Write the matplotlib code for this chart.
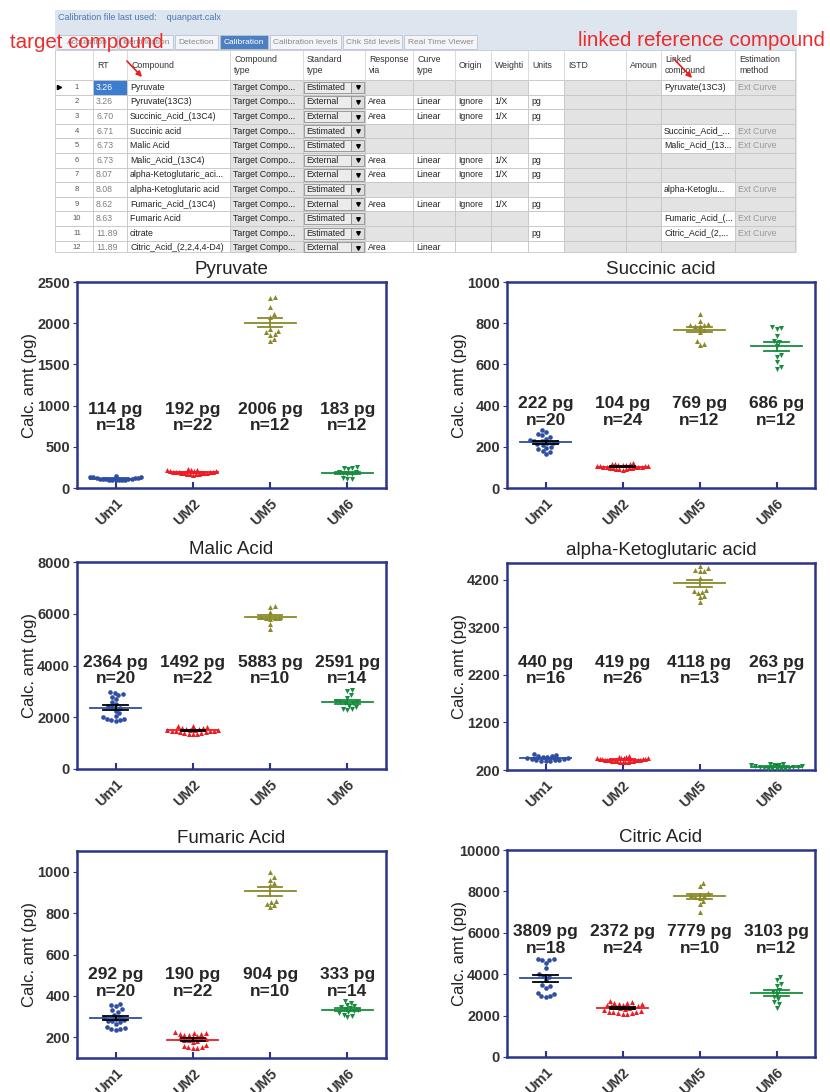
import numpy as np
import matplotlib.pyplot as plt
from matplotlib.patches import Rectangle, FancyArrowPatch

plt.rcParams['font.family'] = ['Liberation Sans', 'DejaVu Sans']

groups = ['Um1', 'UM2', 'UM5', 'UM6']

# ---- data (pg) ----
pyruvate_um1 = [150, 135, 130, 128, 125, 122, 118, 115, 112, 110, 108, 105, 102, 100, 98, 95, 100, 95]
pyruvate_um2 = [228, 222, 218, 215, 212, 208, 205, 200, 198, 195, 192, 190, 188, 185, 182, 180, 176, 172, 168, 165, 160, 165]
pyruvate_um5 = [2320, 2310, 2200, 2110, 2080, 1930, 1910, 1890, 1870, 1860, 1810, 1780]
pyruvate_um6 = [240, 250, 245, 225, 200, 190, 180, 175, 170, 120, 115, 110]
pyruvate_lab = [114, 192, 2006, 183]

succinic_um1 = [280, 270, 262, 255, 248, 240, 235, 230, 228, 225, 220, 218, 212, 208, 200, 195, 190, 182, 175, 165]
succinic_um2 = [120, 118, 116, 115, 113, 112, 110, 108, 107, 106, 105, 104, 103, 102, 101, 100, 99, 98, 96, 95, 93, 92, 90, 88]
succinic_um5 = [845, 812, 795, 790, 785, 790, 785, 765, 755, 715, 700, 695]
succinic_um6 = [782, 778, 772, 740, 715, 710, 690, 645, 638, 612, 585, 578]
succinic_lab = [222, 104, 769, 686]

malic_um1 = [2980, 2950, 2900, 2850, 2780, 2700, 2600, 2500, 2420, 2380, 2340, 2250, 2150, 2050, 2000, 1950, 1920, 1900, 1880, 1850]
malic_um2 = [1680, 1650, 1620, 1600, 1580, 1560, 1540, 1520, 1510, 1500, 1490, 1480, 1470, 1460, 1450, 1440, 1420, 1400, 1380, 1360, 1350, 1340]
malic_um5 = [6300, 6270, 6050, 5880, 5830, 5830, 5850, 5780, 5600, 5400]
malic_um6 = [3050, 3000, 2850, 2750, 2620, 2580, 2540, 2580, 2550, 2450, 2400, 2330, 2300, 2280]
malic_lab = [2364, 1492, 5883, 2591]

akg_um1 = [530, 510, 500, 490, 480, 470, 460, 450, 440, 430, 420, 410, 400, 390, 380, 380]
akg_um2 = [490, 480, 470, 460, 455, 450, 445, 440, 435, 430, 425, 420, 418, 415, 410, 405, 400, 398, 395, 390, 385, 380, 378, 375, 372, 370]
akg_um5 = [4480, 4440, 4400, 4390, 4380, 4240, 3990, 3970, 3950, 3920, 3850, 3830, 3720]
akg_um6 = [330, 320, 310, 300, 295, 290, 280, 270, 265, 260, 250, 240, 230, 225, 220, 215, 215]
akg_lab = [440, 419, 4118, 263]

fumaric_um1 = [360, 355, 350, 335, 330, 320, 310, 300, 295, 290, 285, 280, 275, 280, 265, 250, 245, 240, 238, 236]
fumaric_um2 = [225, 222, 220, 218, 215, 212, 210, 205, 200, 195, 192, 190, 188, 185, 180, 175, 165, 160, 155, 152, 150, 148]
fumaric_um5 = [1000, 975, 960, 945, 935, 860, 855, 845, 840, 830]
fumaric_um6 = [375, 365, 355, 350, 345, 340, 335, 330, 325, 320, 315, 310, 305, 298]
fumaric_lab = [292, 190, 904, 333]

citric_um1 = [4750, 4720, 4700, 4680, 4550, 4300, 4000, 3900, 3850, 3700, 3500, 3450, 3350, 3100, 3050, 2950, 2930, 2900]
citric_um2 = [2700, 2650, 2620, 2600, 2580, 2550, 2520, 2500, 2480, 2450, 2420, 2400, 2380, 2350, 2300, 2250, 2200, 2180, 2150, 2120, 2100, 2160, 2130, 2100]
citric_um5 = [8400, 8250, 7900, 7850, 7800, 7750, 7700, 7550, 7400, 7000]
citric_um6 = [3850, 3700, 3550, 3450, 3250, 3150, 3050, 2900, 2800, 2650, 2550, 2350]
citric_lab = [3809, 2372, 7779, 3103]

# ---- calibration table (screenshot) ----
tab_rt = ['3.26', '3.26', '6.70', '6.71', '6.73', '6.73', '8.07', '8.08', '8.62', '8.63', '11.89', '11.89']
tab_compound = ['Pyruvate', 'Pyruvate(13C3)', 'Succinic_Acid_(13C4)', 'Succinic acid', 'Malic Acid',
                'Malic_Acid_(13C4)', 'alpha-Ketoglutaric_aci...', 'alpha-Ketoglutaric acid',
                'Fumaric_Acid_(13C4)', 'Fumaric Acid', 'citrate', 'Citric_Acid_(2,2,4,4-D4)']
tab_std = ['Estimated', 'External', 'External', 'Estimated', 'Estimated', 'External', 'External',
           'Estimated', 'External', 'Estimated', 'Estimated', 'External']
tab_units = ['', 'pg', 'pg', '', '', 'pg', 'pg', '', 'pg', '', 'pg', '']
tab_linked = ['Pyruvate(13C3)', '', '', 'Succinic_Acid_...', 'Malic_Acid_(13...', '', '',
              'alpha-Ketoglu...', '', 'Fumaric_Acid_(...', 'Citric_Acid_(2,...', '']
tab_headers = ['', 'RT', 'Compound', 'Compound\ntype', 'Standard\ntype', 'Response\nvia', 'Curve\ntype',
               'Origin', 'Weighti', 'Units', 'ISTD', 'Amoun', 'Linked\ncompound', 'Estimation\nmethod']
tab_names = ['Acquisition', 'Identification', 'Detection', 'Calibration', 'Calibration levels',
             'Chk Std levels', 'Real Time Viewer']

fig = plt.figure(figsize=(8.3, 10.92), dpi=100)

# overlay in pixel coords for the screenshot part
ov = fig.add_axes([0, 0, 1, 1])
ov.set_xlim(0, 830)
ov.set_ylim(1092, 0)
ov.axis('off')

ov.add_patch(Rectangle((55, 10), 742, 242, fc='#dde5ef', ec='none'))
ov.text(58, 18, 'Calibration file last used:    quanpart.calx', fontsize=6.5, color='#4a78b5', va='center')

tab_x = [57, 118, 174, 219, 269, 342, 403, 478]
for i, name in enumerate(tab_names):
    active = name == 'Calibration'
    ov.add_patch(Rectangle((tab_x[i] + 1, 35), tab_x[i + 1] - tab_x[i] - 2, 14,
                           fc='#4c80c2' if active else '#f3f5f8', ec='#b9c3d0', lw=0.6))
    ov.text((tab_x[i] + tab_x[i + 1]) / 2, 42.5, name, fontsize=6, ha='center', va='center',
            color='white' if active else '#8a8a8a')

cols = [55, 93, 127, 230, 303, 365, 413, 455, 491, 528, 564, 626, 661, 735, 795]
ov.add_patch(Rectangle((55, 50), 740, 30, fc='white', ec='#c9c9c9', lw=0.6))
for c in range(1, len(cols) - 1):
    ov.plot([cols[c], cols[c]], [50, 80], color='#d5d5d5', lw=0.6)
    ov.text(cols[c] + 4, 65, tab_headers[c], fontsize=6.3, va='center', color='#333333', linespacing=1.3)

row_h = 14.6
for r in range(len(tab_rt)):
    y0 = 80 + r * row_h
    h = min(row_h, 252 - y0)
    est = tab_std[r] == 'Estimated'
    fills = ['#ffffff', '#ffffff', '#ffffff', '#e3e3e3', '#e3e3e3']
    if est:
        fills += ['#e3e3e3'] * 4 + ['#ffffff', '#e3e3e3', '#e3e3e3', '#ffffff', '#e3e3e3']
    else:
        fills += ['#ffffff'] * 5 + ['#e3e3e3'] * 4
    for c in range(len(cols) - 1):
        fc = fills[c]
        if r == 0 and c == 1:
            fc = '#3d7dd0'
        ov.add_patch(Rectangle((cols[c], y0), cols[c + 1] - cols[c], h, fc=fc, ec='#c6c6c6', lw=0.6))
    yc = y0 + row_h / 2
    ov.text(77, yc, str(r + 1), fontsize=5.5, ha='center', va='center', color='#555555')
    if r == 0:
        ov.plot(59, yc, marker='>', ms=3, color='black')
    ov.text(cols[1] + 3, yc, tab_rt[r], fontsize=6.3, va='center', color='white' if r == 0 else '#808080')
    ov.text(cols[2] + 3, yc, tab_compound[r], fontsize=6.3, va='center', color='#222222')
    ov.text(cols[3] + 3, yc, 'Target Compo...', fontsize=6.3, va='center', color='#222222')
    ov.add_patch(Rectangle((304, y0 + 1.5), 47, min(row_h - 3, h - 1.5), fc='#ececec', ec='#8f8f8f', lw=0.6))
    ov.add_patch(Rectangle((351, y0 + 1.5), 13, min(row_h - 3, h - 1.5), fc='#dedede', ec='#8f8f8f', lw=0.6))
    ov.plot(357.5, yc, marker='v', ms=2.6, color='black')
    ov.text(306, yc, tab_std[r], fontsize=6.3, va='center', color='#222222')
    if not est:
        ov.text(cols[5] + 3, yc, 'Area', fontsize=6.3, va='center', color='#222222')
        ov.text(cols[6] + 3, yc, 'Linear', fontsize=6.3, va='center', color='#222222')
        if r < 11:
            ov.text(cols[7] + 3, yc, 'Ignore', fontsize=6.3, va='center', color='#222222')
            ov.text(cols[8] + 3, yc, '1/X', fontsize=6.3, va='center', color='#222222')
    if r < 11:
        ov.text(cols[9] + 3, yc, tab_units[r], fontsize=6.3, va='center', color='#222222')
    if est:
        ov.text(cols[12] + 3, yc, tab_linked[r], fontsize=6.3, va='center', color='#222222')
        ov.text(cols[13] + 3, yc, 'Ext Curve', fontsize=6.3, va='center', color='#9a9a9a')

ov.text(10, 42, 'target compound', fontsize=14.8, color='#ee2a2a', va='center', zorder=5)
ov.text(578, 41, 'linked reference compound', fontsize=14.8, color='#ee2a2a', va='center', zorder=5)
for a, b in [((125, 59), (144, 79)), ((672, 57), (694, 80))]:
    ov.add_patch(FancyArrowPatch(a, b, arrowstyle='-|>', mutation_scale=8, color='#e8201f', lw=1.2, zorder=5))

# ---- scatter panels ----
colors = ['#2d4ea3', '#ee1c25', '#8a8a2c', '#188c3e']
markers = ['o', '^', '^', 'v']
navy = '#2b3488'

panels = [
    ('Pyruvate', [pyruvate_um1, pyruvate_um2, pyruvate_um5, pyruvate_um6], pyruvate_lab,
     (0, 2500), np.arange(0, 2501, 500), 855, False),
    ('Succinic acid', [succinic_um1, succinic_um2, succinic_um5, succinic_um6], succinic_lab,
     (0, 1000), np.arange(0, 1001, 200), 369, True),
    ('Malic Acid', [malic_um1, malic_um2, malic_um5, malic_um6], malic_lab,
     (0, 8000), np.arange(0, 8001, 2000), 3806, True),
    ('alpha-Ketoglutaric acid', [akg_um1, akg_um2, akg_um5, akg_um6], akg_lab,
     (200, 4550), np.arange(200, 4201, 1000), 2293, False),
    ('Fumaric Acid', [fumaric_um1, fumaric_um2, fumaric_um5, fumaric_um6], fumaric_lab,
     (100, 1100), np.arange(200, 1001, 200), 461, True),
    ('Citric Acid', [citric_um1, citric_um2, citric_um5, citric_um6], citric_lab,
     (0, 10000), np.arange(0, 10001, 2000), 5652, True),
]

boxes = [(77, 282, 309, 206), (507, 282, 308, 206),
         (77, 562, 309, 207), (507, 563, 308, 207),
         (77, 851, 309, 207), (507, 850, 308, 207)]


def swarm(vals, lim, h_px, unit_px, d=4.6, max_off=0.33):
    ypx = (np.asarray(vals, float) - lim[0]) / (lim[1] - lim[0]) * h_px
    xs = np.zeros(len(ypx))
    placed = []
    for i in np.argsort(ypx):
        y = ypx[i]
        cands = [0.0]
        for px, py in placed:
            dy = abs(py - y)
            if dy < d:
                dx = np.sqrt(d * d - dy * dy)
                cands += [px + dx, px - dx]
        cands.sort(key=abs)
        for c in cands:
            if all((c - px) ** 2 + (y - py) ** 2 >= d * d - 1e-6 for px, py in placed):
                break
        placed.append((c, y))
        xs[i] = c / unit_px
    widest = np.abs(xs).max()
    if widest > max_off:
        xs *= max_off / widest
    return xs


for (title, data, labs, lim, ticks, lab_y, black), (l, t, w, h) in zip(panels, boxes):
    ax = fig.add_axes([l / 830, 1 - (t + h) / 1092, w / 830, h / 1092])
    for j, vals in enumerate(data):
        x = j + 1
        offs = swarm(vals, lim, h, w / 4)
        ax.scatter(x + offs, vals, marker=markers[j], s=11 if j == 0 else 13,
                   color=colors[j], linewidths=0, zorder=3)
        m = np.mean(vals)
        se = np.std(vals, ddof=1) / np.sqrt(len(vals))
        ax.plot([x - 0.33, x + 0.33], [m, m], color=colors[j], lw=1.3, zorder=4)
        ec = 'black' if (black and j < 2) else colors[j]
        ax.plot([x, x], [m - se, m + se], color=ec, lw=1.3, zorder=5)
        for yy in (m - se, m + se):
            ax.plot([x - 0.16, x + 0.16], [yy, yy], color=ec, lw=1.3, zorder=5)
        ax.text(x, lab_y, f'{labs[j]} pg\nn={len(vals)}', ha='center', va='center',
                fontsize=12.5, fontweight='bold', color='#262626', linespacing=1.15)
    ax.set_xlim(0.5, 4.5)
    ax.set_ylim(*lim)
    ax.set_yticks(ticks)
    ax.set_xticks([1, 2, 3, 4])
    ax.set_xticklabels(groups, rotation=45, ha='right', rotation_mode='anchor',
                       fontsize=10.5, fontweight='bold', color='#333333')
    for lbl in ax.get_yticklabels():
        lbl.set_fontweight('bold')
    ax.tick_params(axis='y', labelsize=10.5, labelcolor='#333333', length=3, color=navy, pad=2)
    ax.tick_params(axis='x', direction='in', length=4, width=1.5, color=navy, pad=6)
    for s in ax.spines.values():
        s.set_color(navy)
        s.set_linewidth(1.8)
    ax.set_title(title, fontsize=13.5, color='#222222', pad=6)
    ax.set_ylabel('Calc. amt (pg)', fontsize=12, color='#222222')
    ax.yaxis.set_label_coords(-40 / w, 0.5)

fig.savefig('out.png', dpi=100)
